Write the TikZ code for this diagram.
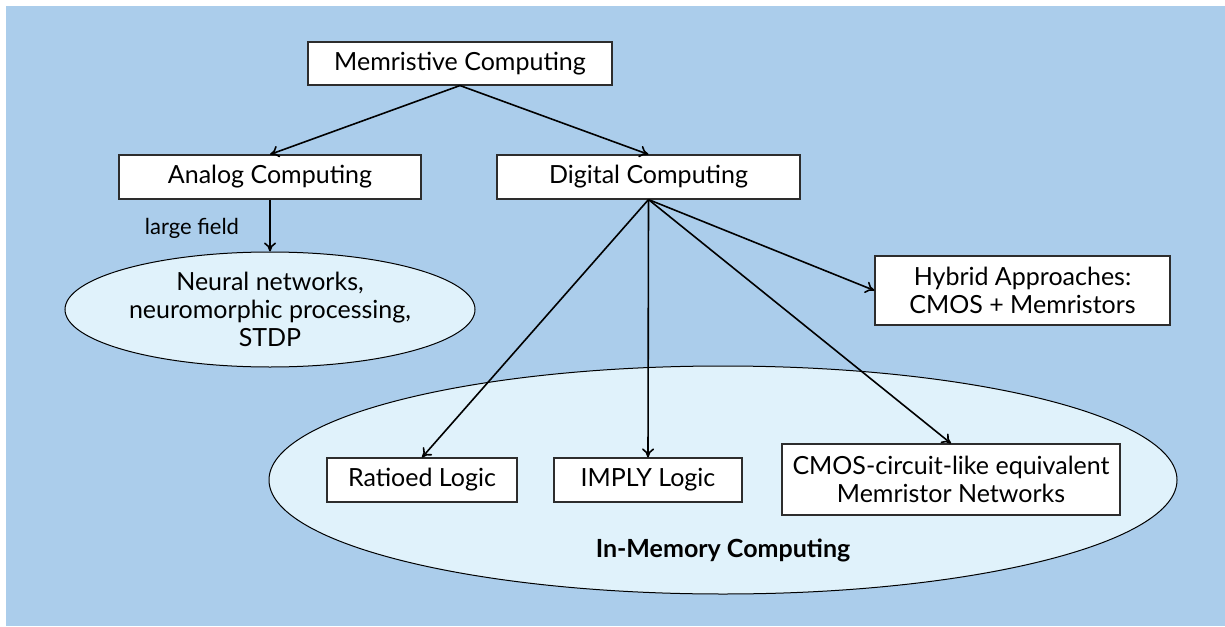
\documentclass[tikz,border=0pt]{standalone}
\usepackage{fontspec}
\setmainfont{Lato}
\usetikzlibrary{shapes.geometric,arrows.meta}
\definecolor{bgblue}{RGB}{171,205,235}
\definecolor{areafill}{RGB}{224,242,251}
\definecolor{boxline}{RGB}{45,45,45}

\begin{document}
\begin{tikzpicture}[x=0.5pt, y=-0.5pt,
  topic/.style={draw=boxline, fill=white, line width=0.55pt, inner sep=0pt, align=center, font=\fontsize{12.5}{14}\selectfont},
  area/.style={ellipse, draw=black, fill=areafill, line width=0.5pt, inner sep=0pt, align=center, font=\fontsize{12.5}{14}\selectfont},
  link/.style={-{To[length=4.5pt,width=6pt]}, line width=0.8pt}]
\useasboundingbox (0,0) rectangle (1225,626);
\fill[bgblue] (6,6) rectangle (1225,626);
\node[area, minimum width=454pt, minimum height=114pt] (inmem) at (723,480) {};
\node[font=\fontsize{12.5}{14}\selectfont\bfseries] (inmemlabel) at (723,550) {In-Memory Computing};
\node[topic, minimum width=152pt, minimum height=21.5pt] (mem) at (460,63.5) {Memristive Computing};
\node[topic, minimum width=151pt, minimum height=22pt] (analog) at (270,177) {Analog Computing};
\node[topic, minimum width=151.5pt, minimum height=22pt] (digital) at (648.5,177) {Digital Computing};
\node[area, minimum width=205pt, minimum height=57.5pt] (neural) at (270,309.5) {Neural networks,\\neuromorphic processing,\\STDP};
\node[font=\fontsize{11}{13}\selectfont] (field) at (192,228) {large field};
\node[topic, minimum width=147.5pt, minimum height=34.5pt] (hybrid) at (1022.5,290.5) {Hybrid Approaches:\\CMOS + Memristors};
\node[topic, minimum width=95pt, minimum height=22pt] (ratioed) at (422,480) {Ratioed Logic};
\node[topic, minimum width=94pt, minimum height=22pt] (imply) at (648,480) {IMPLY Logic};
\node[topic, minimum width=169pt, minimum height=35.5pt] (cmos) at (951,479.5) {CMOS-circuit-like equivalent\\Memristor Networks};
\draw[link] (mem.south) -- (analog.north);
\draw[link] (mem.south) -- (digital.north);
\draw[link] (analog.south) -- (neural.north);
\draw[link] (digital.south) -- (hybrid.west);
\draw[link] (digital.south) -- (ratioed.north);
\draw[link] (digital.south) -- (imply.north);
\draw[link] (digital.south) -- (cmos.north);
\end{tikzpicture}
\end{document}
